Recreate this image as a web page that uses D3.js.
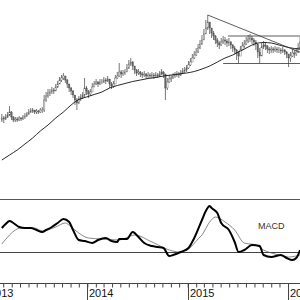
<!DOCTYPE html>
<html><head><meta charset="utf-8">
<script src="https://cdn.jsdelivr.net/npm/d3@7"></script>
<style>html,body{margin:0;padding:0;background:#fff;}svg{display:block;}</style>
</head><body>
<svg id="c" width="300" height="300"></svg>
<script>
// ---- data ----
const firstWeek = "2013-02-18";
const weekCount = 156;
const closes = [82,81,83,85,88,83,80,81,80,82,81,83,84,86,88,89,90,88,89,88,90,90,100,104,107,108,110,109,113,116,120,122,124,120,116,112,109,105,100,97,101,103,105,112,109,106,108,113,116,118,116,118,118,120,119,121,116,114,116,122,124,128,126,127,128,132,136,138,134,130,127,128,126,125,126,124,125,124,125,124,125,124,126,128,126,112,118,121,122,124,125,126,125,127,129,130,132,135,138,142,145,148,152,156,160,166,172,178,172,167,164,160,157,155,158,160,159,157,158,155,152,150,147,144,150,154,156,159,161,162,160,158,156,148,144,153,155,154,151,150,151,150,151,150,150,149,150,148,146,142,144,147,146,148,152,158];
const highs = [86,84,86,88,94,89,84,83,83,84,83,85,87,88,91,92,92,90,91,90,92,93,105,108,111,111,113,112,116,119,123,125,127,124,121,116,113,110,105,102,104,106,108,122,114,110,111,117,119,121,119,121,121,123,122,124,120,118,119,125,128,137,130,130,131,136,140,142,139,134,131,131,129,128,129,127,128,127,128,127,128,127,129,131,129,126,122,125,125,127,128,129,128,130,132,133,135,139,142,146,149,152,156,160,165,171,180,185,178,172,169,165,162,159,162,164,163,161,162,159,156,154,151,149,154,158,160,163,165,166,164,162,160,155,152,157,159,158,155,153,154,153,154,153,153,152,153,151,149,146,148,151,150,152,157,163];
const lows = [78,77,80,82,84,80,78,78,78,79,79,80,81,83,85,87,87,86,86,86,87,87,88,98,102,104,106,106,109,112,116,118,120,117,112,108,105,102,95,90,96,99,101,103,105,102,104,108,113,115,113,115,116,117,116,118,112,111,112,118,121,123,122,124,125,128,131,134,130,126,124,125,123,122,123,121,122,122,122,121,122,122,123,125,122,100,110,117,118,121,122,123,122,124,126,127,128,131,134,138,141,144,147,151,155,160,166,170,166,162,160,156,153,151,154,156,155,153,154,151,148,146,140,137,145,150,152,155,157,158,156,154,150,142,137,148,151,150,147,146,147,147,148,147,147,146,147,145,142,133,138,143,142,144,147,150];
// 40-week average, sampled every 4 weeks (week index, value)
const maWeek = [0,4,8,12,16,20,24,28,32,36,40,44,48,52,56,60,64,68,72,76,80,84,88,92,96,100,104,108,112,116,120,124,128,132,136,140,144,148,152,155];
const maValue = [40,45,50,56,62,69,75,82,88,95,100.5,103,105.5,108,112,114.5,116.5,118.5,120,121.5,122.5,124,125,126,127,128.5,131,134,138,142,145,149,153,156.5,157.5,157,155,153,151.5,151];
// drawn lines: [weekIndex, price] start and end (end index beyond last week = right edge)
const trendLine = [[107,185],[156,147]];
const resistance = [[117.5,164],[156,164]];
const support = [[115,136.5],[156,136.5]];
// MACD
const macdWeek = [0,2,4,6,9,12,15,18,21,23,26,29,32,35,37,40,43,47,50,54,57,60,61,65,68,71,74,78,81,84,87,89,93,97,100,104,106,108,109,112,114,118,121,123,126,130,134,136,140,145,148,151,153,155];
const macdValue = [24,28,31,29,25,24,24,22,20,22,25,29,33,30,22,12,11,9,12,14,11,10,13,13,20,15,9,6,5,4,-4,-3,0,4,14,32,41,46,44,39,29,22,10,0,2,7,6,-3,-5,-3,-6,-8,-6,2];
const signalWeek = [0,4,7,10,14,17,21,28,33,36,40,45,52,61,69,78,87,92,97,102,104,108,111,116,121,126,132,136,142,149,155];
const signalValue = [8,17,22,24,24,24,21,25,29,25,19,14,13,12,17,10,2,0,3,13,17,30,35,30,22,9,7,2,-2,-5,-3];
const yearLabels = ["2013","2014","2015","2016"];
const panelLabel = "MACD";

// ---- scales ----
const svg = d3.select("#c");
const weeks = d3.timeWeek.every(1).range(new Date(firstWeek+"T00:00:00"), new Date(2017,0,1)).slice(0, weekCount+1);
const wk = i => { const a = Math.floor(i), f = i - a; return new Date(+weeks[a] + f*(+weeks[Math.min(a+1,weeks.length-1)] - +weeks[a])); };
const x = d3.scaleTime().domain([new Date(2013,0,1), new Date(2016,0,1)]).range([-13, 288]);
const yP = d3.scaleLinear().domain([0, 200]).range([200, 0]);
const yM = d3.scaleLinear().domain([-31, 53]).range([283, 199]);

// ---- price bars ----
const bars = svg.append("g");
closes.forEach((c, i) => {
  const o = i === 0 ? closes[0] - 2 : closes[i-1];
  const cx = x(weeks[i]);
  bars.append("line").attr("x1", cx).attr("x2", cx)
    .attr("y1", yP(highs[i])).attr("y2", yP(lows[i]))
    .attr("stroke", "#555").attr("stroke-width", 0.8);
  const t = yP(Math.max(o, c)), b = yP(Math.min(o, c));
  bars.append("rect").attr("x", cx - 0.7).attr("width", 1.4)
    .attr("y", t).attr("height", Math.max(0.6, b - t))
    .attr("fill", c >= o ? "#fff" : "#666").attr("stroke", "#555").attr("stroke-width", 0.4);
});

// moving average
svg.append("path").datum(maWeek.map((w, k) => [w, maValue[k]]))
  .attr("fill", "none").attr("stroke", "#111").attr("stroke-width", 0.9)
  .attr("d", d3.line().x(d => x(wk(d[0]))).y(d => yP(d[1])).curve(d3.curveMonotoneX));

// drawn lines
[trendLine, resistance, support].forEach(l => {
  svg.append("line")
    .attr("x1", x(wk(l[0][0]))).attr("y1", yP(l[0][1]))
    .attr("x2", x(wk(l[1][0]))).attr("y2", yP(l[1][1]))
    .attr("stroke", "#333").attr("stroke-width", 0.8);
});

// panel separator and MACD zero line
svg.append("line").attr("x1", 0).attr("x2", 300).attr("y1", yM(53)+0.5).attr("y2", yM(53)+0.5).attr("stroke", "#555").attr("stroke-width", 1);
svg.append("line").attr("x1", 0).attr("x2", 300).attr("y1", Math.round(yM(0))+0.5).attr("y2", Math.round(yM(0))+0.5).attr("stroke", "#444").attr("stroke-width", 1);

// MACD lines
svg.append("path").datum(signalWeek.map((w, k) => [w, signalValue[k]]))
  .attr("fill", "none").attr("stroke", "#555").attr("stroke-width", 0.7)
  .attr("d", d3.line().x(d => x(wk(d[0]))).y(d => yM(d[1])).curve(d3.curveMonotoneX));
svg.append("path").datum(macdWeek.map((w, k) => [w, macdValue[k]]))
  .attr("fill", "none").attr("stroke", "#000").attr("stroke-width", 2)
  .attr("d", d3.line().x(d => x(wk(d[0]))).y(d => yM(d[1])).curve(d3.curveMonotoneX));

svg.append("text").attr("x", 258).attr("y", 229).attr("font-family", "Liberation Sans, Arial, sans-serif")
  .attr("font-size", 9).attr("fill", "#333").text(panelLabel);

// ---- time axis ----
const axY = 283;
const minor = d3.axisBottom(x).ticks(d3.timeMonth.every(1)).tickSize(4).tickFormat("");
const gMin = svg.append("g").attr("transform", `translate(0,${axY}.5)`).call(minor);
gMin.select(".domain").remove();
gMin.selectAll("line").attr("stroke", "#444");
svg.append("line").attr("x1", 0).attr("x2", 300).attr("y1", axY + 0.5).attr("y2", axY + 0.5).attr("stroke", "#444");
const years = yearLabels.map(s => new Date(+s, 0, 1));
const gYr = svg.append("g");
years.forEach((d, k) => {
  const px = Math.round(x(d)) + 0.5;
  gYr.append("line").attr("x1", px).attr("x2", px).attr("y1", axY).attr("y2", 300).attr("stroke", "#444");
  gYr.append("text").attr("x", px + 1.5).attr("y", 297).attr("font-family", "Liberation Sans, Arial, sans-serif")
    .attr("font-size", 11).attr("fill", "#111").text(yearLabels[k]);
});
</script>
</body></html>
